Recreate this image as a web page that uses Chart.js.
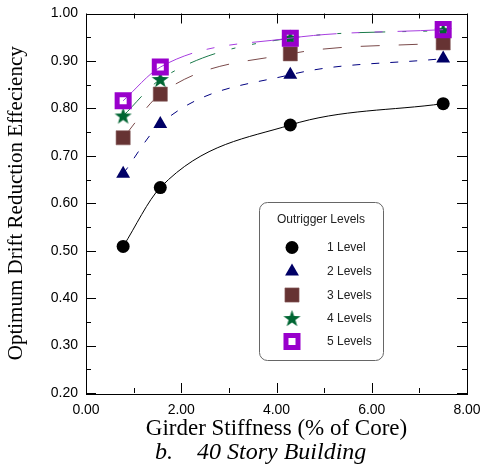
<!DOCTYPE html>
<html>
<head>
<meta charset="utf-8">
<script src="https://cdn.jsdelivr.net/npm/chart.js@4/dist/chart.umd.min.js"></script>
<style>
  html, body { margin: 0; padding: 0; background: #fff; }
  #wrap { width: 484px; height: 475px; }
</style>
</head>
<body>
<div id="wrap"><canvas id="c" width="484" height="475"></canvas></div>
<script>
// ---- Data ----
const stiffness = [0.78, 1.56, 4.29, 7.5];
const level1 = [0.509, 0.633, 0.765, 0.810];
const level2 = [0.662, 0.767, 0.871, 0.905];
const level3 = [0.738, 0.830, 0.915, 0.938];
const level4 = [0.784, 0.861, 0.948, 0.964];
const level5 = [0.816, 0.887, 0.948, 0.966];
const seriesNames = ['1 Level', '2 Levels', '3 Levels', '4 Levels', '5 Levels'];
const xTickValues = [0, 2, 4, 6, 8];
const yTickValues = [0.2, 0.3, 0.4, 0.5, 0.6, 0.7, 0.8, 0.9, 1.0];
const xTitle = 'Girder Stiffness (% of Core)';
const yTitle = 'Optimum Drift Reduction Effeciency';
const subTitle = 'b.    40 Story Building';
const legendTitle = 'Outrigger Levels';

// filled star marker
function makeStar(color) {
  const c = document.createElement('canvas');
  c.width = 19; c.height = 19;
  const g = c.getContext('2d');
  const cx = 9.5, cy = 10, ro = 9, ri = 3.6;
  g.beginPath();
  for (let i = 0; i < 10; i++) {
    const r = i % 2 === 0 ? ro : ri;
    const a = -Math.PI / 2 + i * Math.PI / 5;
    const px = cx + r * Math.cos(a), py = cy + r * Math.sin(a);
    if (i === 0) g.moveTo(px, py); else g.lineTo(px, py);
  }
  g.closePath();
  g.fillStyle = color;
  g.fill();
  return c;
}
const starImg = makeStar('#006633');

const toXY = (ys) => ys.map((y, i) => ({ x: stiffness[i], y: y }));

const styles = [
  { line: '#000000', dash: [], pointStyle: 'circle', radius: 6.5, bg: '#000000', bc: '#000000', bw: 0 },
  { line: '#000080', dash: [8, 11], pointStyle: 'triangle', radius: 8, bg: '#000066', bc: '#000066', bw: 0 },
  { line: '#7a4a4a', dash: [19, 19], pointStyle: 'rect', radius: 10, bg: '#663333', bc: '#8a6060', bw: 0.6 },
  { line: '#1a7a4a', dash: [27, 17, 4, 17, 4, 17], pointStyle: starImg, radius: 9, bg: '#006633', bc: '#006633', bw: 0 },
  { line: '#a63ce0', dash: [85, 15, 8, 15, 8, 15], pointStyle: 'rect', radius: 8.5, bg: 'rgba(0,0,0,0)', bc: '#9900cc', bw: 5 }
];
const allData = [level1, level2, level3, level4, level5];

const datasets = allData.map((d, i) => ({
  label: seriesNames[i],
  data: toXY(d),
  borderColor: styles[i].line,
  borderWidth: 1,
  borderDash: styles[i].dash,
  cubicInterpolationMode: 'monotone',
  fill: false,
  pointStyle: styles[i].pointStyle,
  pointRadius: styles[i].radius,
  pointHoverRadius: styles[i].radius,
  pointBackgroundColor: styles[i].bg,
  pointBorderColor: styles[i].bc,
  pointBorderWidth: styles[i].bw,
  order: 5 - i
}));

// inner ticks + frame
const framePlugin = {
  id: 'frame',
  afterDatasetsDraw(chart) {
    const { ctx, chartArea: a, scales: { x, y } } = chart;
    ctx.save();
    ctx.strokeStyle = '#000';
    ctx.lineWidth = 1;
    ctx.beginPath();
    for (let k = 0; k <= 16; k++) {
      const v = 0.2 + k * 0.05;
      const py = Math.round(y.getPixelForValue(v)) + 0.5;
      const len = k % 2 === 0 ? 10 : 5;
      ctx.moveTo(a.left, py); ctx.lineTo(a.left + len, py);
      ctx.moveTo(a.right, py); ctx.lineTo(a.right - len, py);
    }
    for (let k = 0; k <= 8; k++) {
      const px = Math.round(x.getPixelForValue(k)) + 0.5;
      const len = k % 2 === 0 ? 10 : 5;
      ctx.moveTo(px, a.bottom); ctx.lineTo(px, a.bottom - len);
      ctx.moveTo(px, a.top); ctx.lineTo(px, a.top + len);
    }
    ctx.stroke();
    ctx.strokeRect(Math.round(a.left) + 0.5, Math.round(a.top) + 0.5,
      Math.round(a.right - a.left), Math.round(a.bottom - a.top));
    ctx.restore();
  }
};

// legend box inside plot + caption
const legendPlugin = {
  id: 'boxLegend',
  afterDraw(chart) {
    const { ctx } = chart;
    const bx = 259.5, by = 202.5, bw = 124, bh = 158, r = 8;
    ctx.save();
    ctx.beginPath();
    ctx.moveTo(bx + r, by);
    ctx.lineTo(bx + bw - r, by);
    ctx.arcTo(bx + bw, by, bx + bw, by + r, r);
    ctx.lineTo(bx + bw, by + bh - r);
    ctx.arcTo(bx + bw, by + bh, bx + bw - r, by + bh, r);
    ctx.lineTo(bx + r, by + bh);
    ctx.arcTo(bx, by + bh, bx, by + bh - r, r);
    ctx.lineTo(bx, by + r);
    ctx.arcTo(bx, by, bx + r, by, r);
    ctx.closePath();
    ctx.fillStyle = '#fff';
    ctx.fill();
    ctx.strokeStyle = '#666';
    ctx.lineWidth = 1;
    ctx.stroke();

    ctx.fillStyle = '#222';
    ctx.font = '12px "Liberation Sans", Arial, sans-serif';
    ctx.textAlign = 'center';
    ctx.textBaseline = 'middle';
    ctx.fillText(legendTitle, 321, 220);

    const rows = [247.5, 271.5, 295, 318.5, 341.5];
    ctx.textAlign = 'left';
    seriesNames.forEach((name, i) => {
      const st = styles[i];
      ctx.fillStyle = st.bg;
      ctx.strokeStyle = st.bc;
      ctx.lineWidth = st.bw;
      Chart.helpers.drawPoint(ctx, {
        pointStyle: st.pointStyle, radius: st.radius, rotation: 0, borderWidth: st.bw
      }, 292, rows[i]);
      ctx.fillStyle = '#222';
      ctx.fillText(name, 327, rows[i] + 0.5);
    });

    // caption under the x-axis title
    ctx.fillStyle = '#000';
    ctx.font = 'italic 24px "Liberation Serif", "Times New Roman", serif';
    ctx.textAlign = 'left';
    ctx.textBaseline = 'alphabetic';
    ctx.fillText(subTitle, 155, 459);
    ctx.restore();
  }
};

new Chart(document.getElementById('c'), {
  type: 'line',
  data: { datasets },
  plugins: [framePlugin, legendPlugin],
  options: {
    responsive: false,
    animation: false,
    devicePixelRatio: 1,
    layout: { padding: { left: 0, right: 17, top: 12, bottom: 0 } },
    plugins: {
      legend: { display: false },
      tooltip: { enabled: false },
      title: { display: false }
    },
    scales: {
      x: {
        type: 'linear',
        min: 0, max: 8,
        grid: { display: false, drawTicks: false },
        border: { display: false },
        afterBuildTicks: (s) => { s.ticks = xTickValues.map(v => ({ value: v })); },
        afterFit: (s) => { s.height = 82; s.paddingLeft = 0; s.paddingRight = 0; },
        ticks: {
          color: '#000',
          padding: 9,
          maxRotation: 0,
          autoSkip: false,
          font: { family: '"Liberation Sans", Arial, sans-serif', size: 14 },
          callback: (v) => Number(v).toFixed(2)
        },
        title: {
          display: true,
          text: xTitle,
          color: '#000',
          font: { family: '"Liberation Serif", "Times New Roman", serif', size: 23, lineHeight: 1.0 },
          padding: { top: 0, bottom: 35 }
        }
      },
      y: {
        type: 'linear',
        min: 0.2, max: 1.0,
        grid: { display: false, drawTicks: false },
        border: { display: false },
        afterBuildTicks: (s) => { s.ticks = yTickValues.map(v => ({ value: v })); },
        afterFit: (s) => { s.width = 86; s.paddingTop = 0; s.paddingBottom = 0; },
        ticks: {
          color: '#000',
          padding: 8,
          autoSkip: false,
          font: { family: '"Liberation Sans", Arial, sans-serif', size: 14 },
          callback: (v) => Number(v).toFixed(2)
        },
        title: {
          display: true,
          text: yTitle,
          color: '#000',
          font: { family: '"Liberation Serif", "Times New Roman", serif', size: 21, lineHeight: 1.2 },
          padding: { top: 4, bottom: 0 }
        }
      }
    }
  }
});
</script>
</body>
</html>
